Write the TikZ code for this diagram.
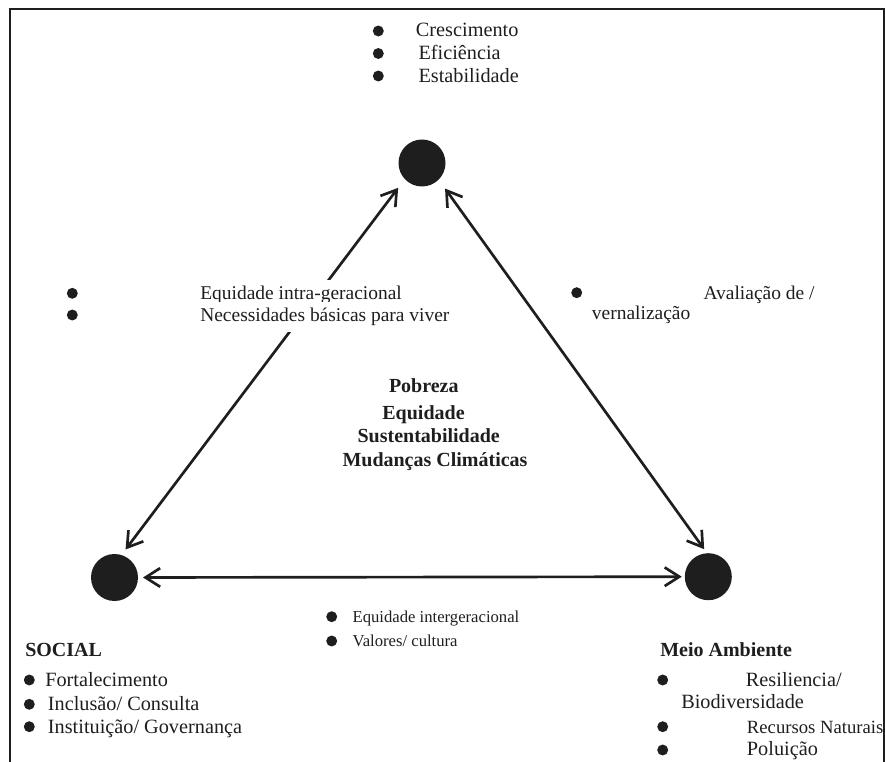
\documentclass[tikz,border=0pt]{standalone}
\usepackage{fontspec}
\setmainfont{Liberation Serif}
\usetikzlibrary{arrows.meta}
\definecolor{ink}{HTML}{1E1E1E}
\begin{document}
\begin{tikzpicture}[x=0.75pt,y=-0.75pt,
  hub/.style={circle,fill=ink,draw=none,minimum size=35.25pt,inner sep=0pt,outer sep=0pt},
  dot/.style={circle,fill=ink,draw=none,minimum size=8.2pt,inner sep=0pt},
  lbl/.style={anchor=base west,inner sep=0pt,text=ink,font=\fontsize{15.2}{18}\selectfont},
  side/.style={lbl,font=\fontsize{14.6}{17}\selectfont},
  small/.style={lbl,font=\fontsize{12.5}{15}\selectfont},
  head/.style={lbl,font=\fontsize{15}{18}\selectfont\bfseries},
  core/.style={anchor=base,inner sep=0pt,text=ink,font=\fontsize{15}{18}\selectfont\bfseries},
  masked/.style={fill=white,inner ysep=4.5pt},
  barb/.tip={Straight Barb[length=11pt,width=14pt]},
  link/.style={draw=ink,line width=2pt,barb-barb}]

% page and open frame
\useasboundingbox (0,0) rectangle (885,762);
\draw[ink,line width=1.5pt] (10,762) -- (10,9) -- (883.5,9) -- (883.5,762);

% the three poles
\node[hub] (T) at (422,163) {};
\node[hub] (L) at (114.5,577.5) {};
\node[hub] (R) at (708.3,576.7) {};

% two-way links between the poles
\draw[link,shorten <=5.25pt,shorten >=8.25pt] (L.73) -- (T.223);
\draw[link,shorten <=8.25pt,shorten >=3.75pt] (T.315) -- (R.93);
\draw[link,shorten <=3.75pt,shorten >=2.25pt] (L.0) -- (R.180);

% economic list
\node[dot] (d1) at (378.3,31) {};
\node[dot] (d2) at (378.3,53.5) {};
\node[dot] (d3) at (378.3,76) {};
\node[lbl] (e1) at (415.7,36.5) {Crescimento};
\node[lbl] (e2) at (418.3,60) {Eficiência};
\node[lbl] (e3) at (418.3,82.5) {Estabilidade};

% social-economic side (text sits on a white patch over the link)
\node[dot] (d4) at (72.3,293.3) {};
\node[dot] (d5) at (72.3,315) {};
\node[side,masked] (s1) at (200,299.5) {Equidade intra-geracional};
\node[side,masked] (s2) at (200,321.7) {Necessidades básicas para viver};

% economic-environment side
\node[dot] (d6) at (576.7,292.7) {};
\node[side] (a1) at (703.3,300) {Avaliação de /};
\node[side] (a2) at (591.7,319.5) {vernalização};

% central themes
\node[core] (c1) at (423.8,392.3) {Pobreza};
\node[core] (c2) at (423.5,420) {Equidade};
\node[core] (c3) at (428.7,442.7) {Sustentabilidade};
\node[core] (c4) at (435,466.5) {Mudanças Climáticas};

% social-environment side
\node[dot] (d7) at (331.7,616.7) {};
\node[dot] (d8) at (331.7,641) {};
\node[small] (m1) at (352.3,622.7) {Equidade intergeracional};
\node[small] (m2) at (352.3,646) {Valores/ cultura};

% social list
\node[head] (h1) at (25,656) {SOCIAL};
\node[dot] (d9) at (29.3,680) {};
\node[dot] (d10) at (29.3,704.3) {};
\node[dot] (d11) at (29.3,726.7) {};
\node[lbl] (o1) at (45,686) {Fortalecimento};
\node[lbl] (o2) at (47.7,710) {Inclusão/ Consulta};
\node[lbl] (o3) at (47.7,733.3) {Instituição/ Governança};

% environment list
\node[head] (h2) at (660,656) {Meio Ambiente};
\node[dot] (d12) at (662.7,680) {};
\node[dot] (d13) at (662.7,726.7) {};
\node[dot] (d14) at (662.7,750) {};
\node[lbl] (v1) at (745.7,686.7) {Resiliencia/};
\node[lbl] (v2) at (681,708.3) {Biodiversidade};
\node[lbl,font=\fontsize{14}{17}\selectfont] (v3) at (746.7,733.3) {Recursos Naturais};
\node[lbl] (v4) at (746.7,755) {Poluição};
\end{tikzpicture}
\end{document}
